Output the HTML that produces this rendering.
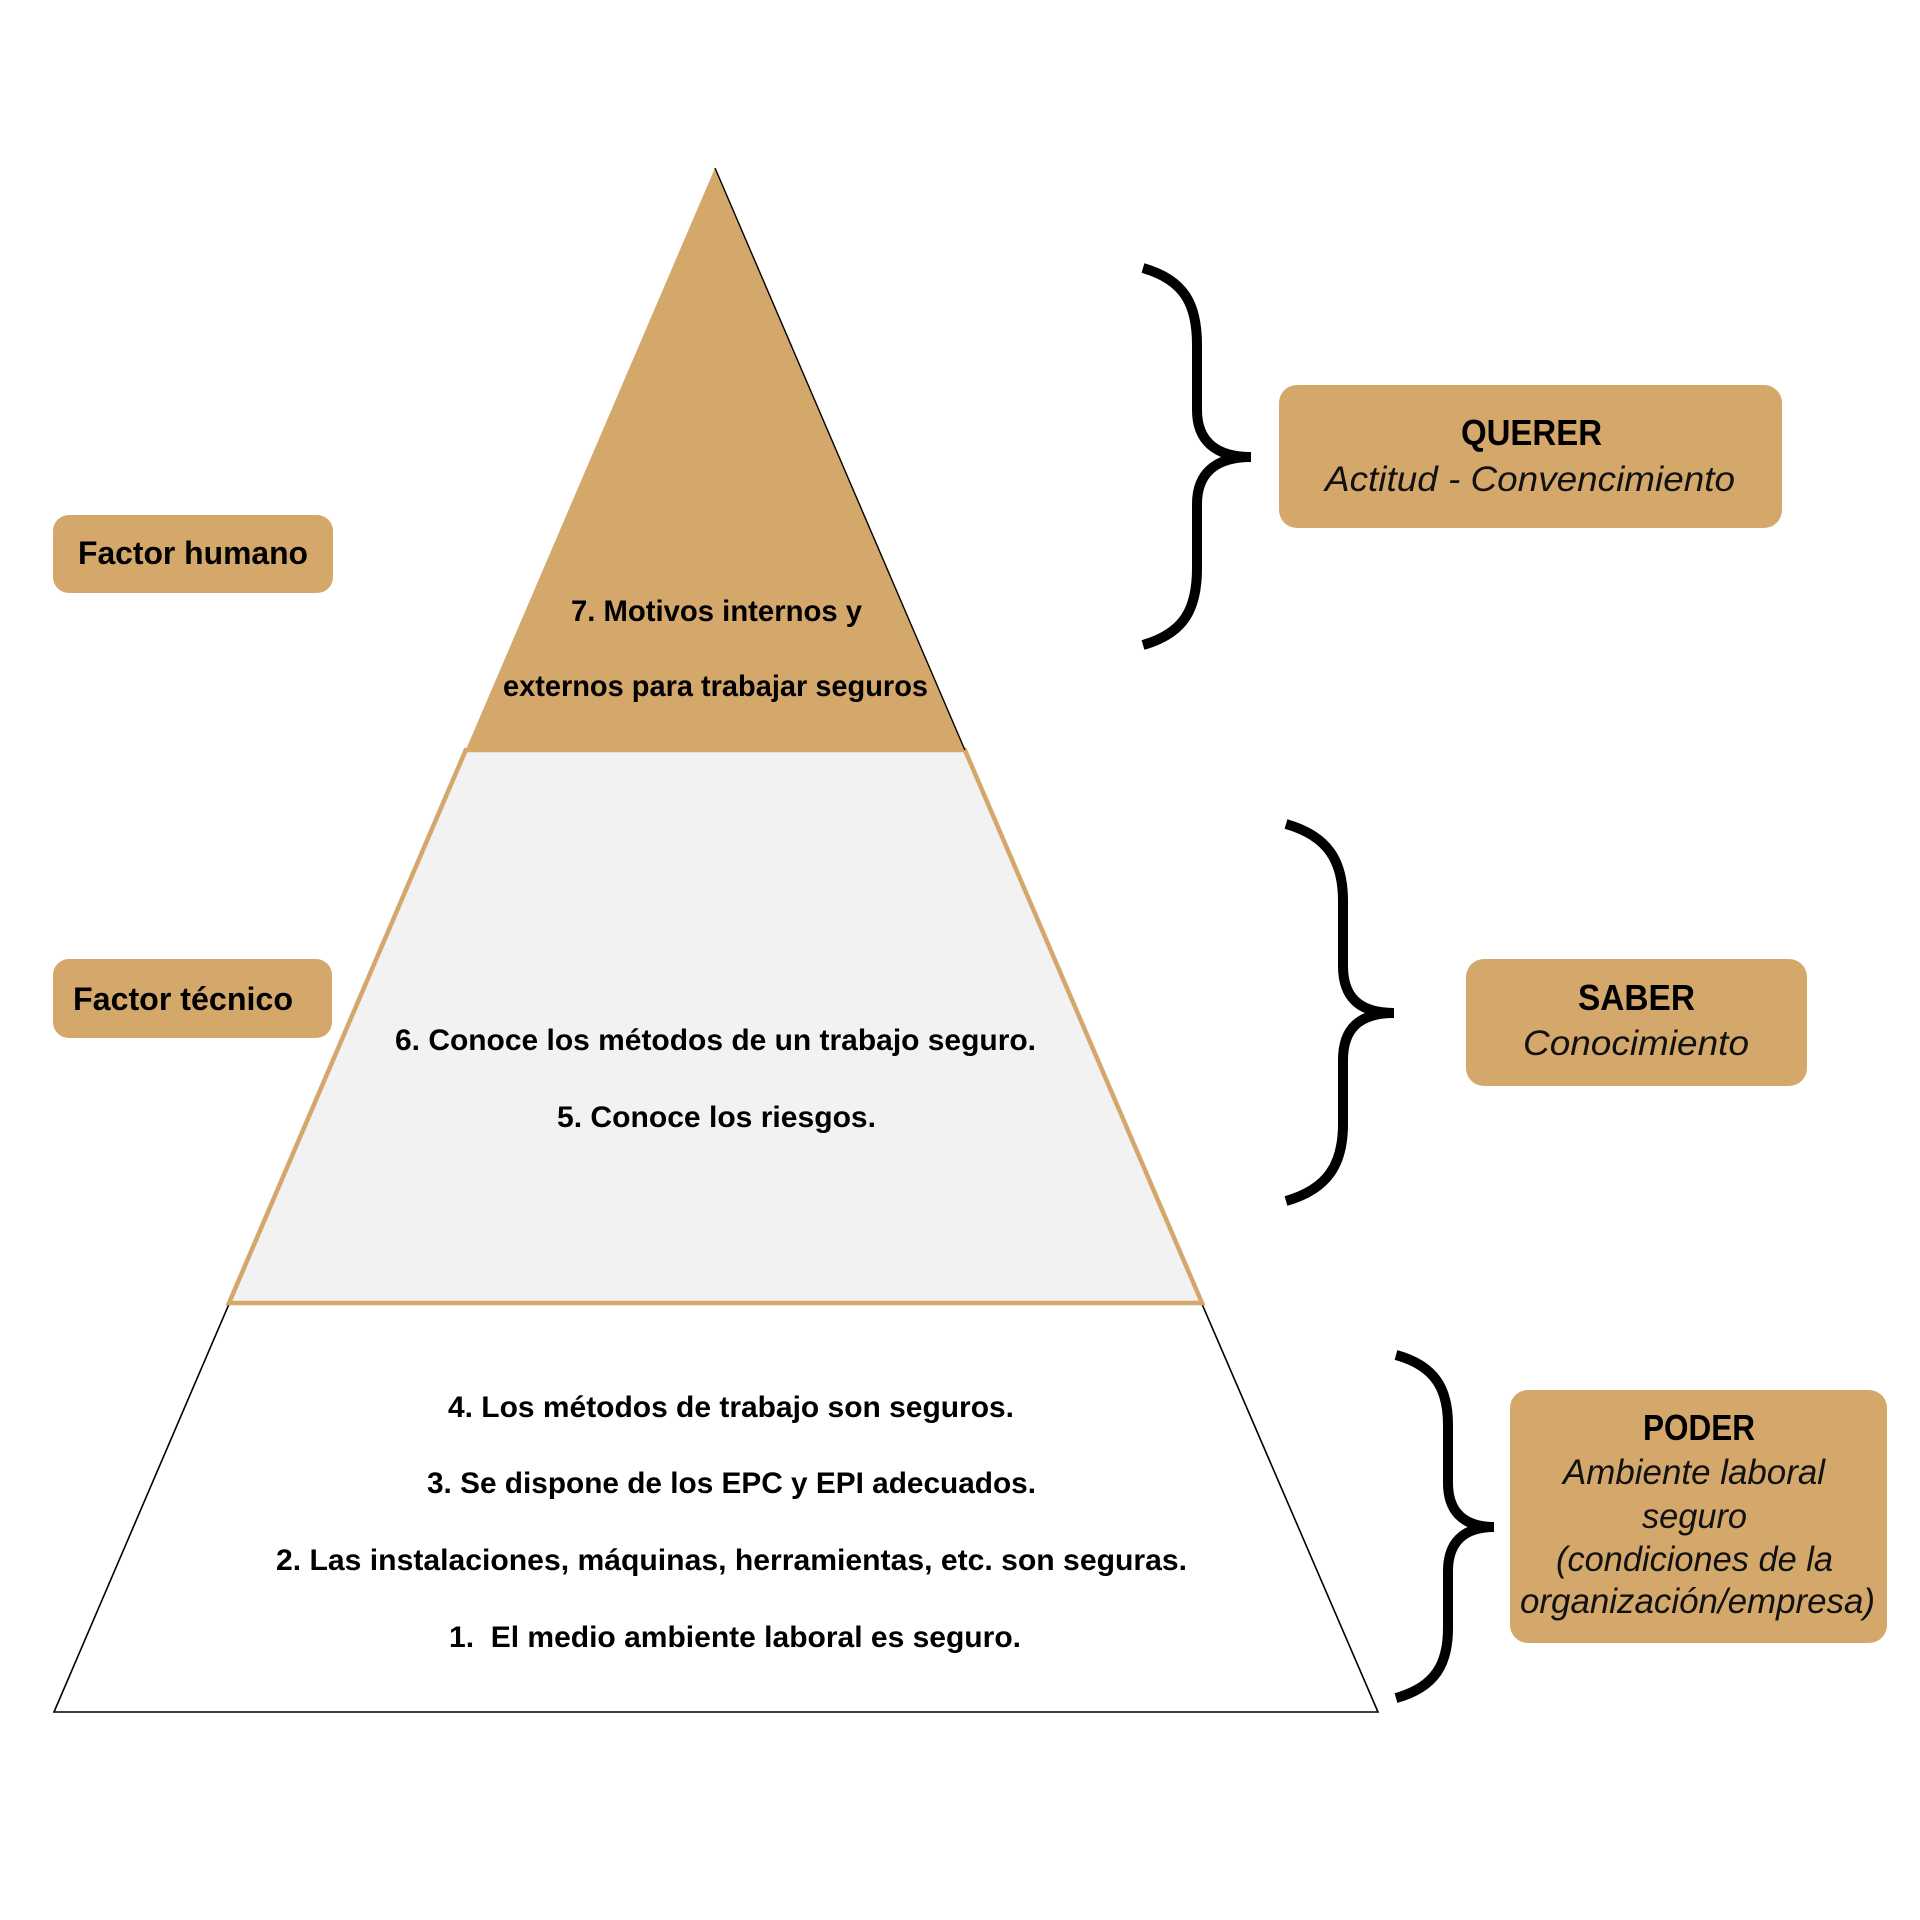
<!DOCTYPE html>
<html>
<head>
<meta charset="utf-8">
<style>
  html, body { margin: 0; padding: 0; background: #ffffff; }
  body { width: 1920px; height: 1920px; overflow: hidden; }
  svg { display: block; }
  .b { font-family: "Liberation Sans", Arial, sans-serif; font-weight: bold; fill: #000; }
  .i { font-family: "Liberation Sans", Arial, sans-serif; font-style: italic; font-weight: normal; fill: #111; }
</style>
</head>
<body>
<svg width="1920" height="1920" viewBox="0 0 1920 1920" xmlns="http://www.w3.org/2000/svg">
  <rect x="0" y="0" width="1920" height="1920" fill="#ffffff"/>

  <!-- Bottom band -->
  <polygon points="229,1304 1202,1304 1378,1712 54,1712" fill="#ffffff" stroke="#000" stroke-width="1.6" stroke-linejoin="miter"/>

  <!-- Middle band -->
  <polygon points="465.8,750 964.9,750 1202,1303 229,1303" fill="#F2F2F2" stroke="#D4A76A" stroke-width="4.5" stroke-linejoin="miter"/>

  <!-- Top band -->
  <polygon points="715,168 465.8,750 964.9,750" fill="#D4A76B"/>
  <line x1="715" y1="168" x2="964.9" y2="750" stroke="#000" stroke-width="1.4"/>

  <!-- Pyramid text -->
  <text class="b" font-size="30" x="571" y="621" textLength="291" lengthAdjust="spacingAndGlyphs">7. Motivos internos y</text>
  <text class="b" font-size="30" x="503" y="696" textLength="425" lengthAdjust="spacingAndGlyphs">externos para trabajar seguros</text>

  <text class="b" font-size="30" x="395" y="1050" textLength="641" lengthAdjust="spacingAndGlyphs">6. Conoce los métodos de un trabajo seguro.</text>
  <text class="b" font-size="30" x="557" y="1127" textLength="319" lengthAdjust="spacingAndGlyphs">5. Conoce los riesgos.</text>

  <text class="b" font-size="30" x="448" y="1417" textLength="566" lengthAdjust="spacingAndGlyphs">4. Los métodos de trabajo son seguros.</text>
  <text class="b" font-size="30" x="427" y="1493" textLength="609" lengthAdjust="spacingAndGlyphs">3. Se dispone de los EPC y EPI adecuados.</text>
  <text class="b" font-size="30" x="276" y="1570" textLength="911" lengthAdjust="spacingAndGlyphs">2. Las instalaciones, máquinas, herramientas, etc. son seguras.</text>
  <text class="b" font-size="30" x="449" y="1647" textLength="572" lengthAdjust="spacingAndGlyphs">1.&#160; El medio ambiente laboral es seguro.</text>

  <!-- Left labels -->
  <rect x="53" y="515" width="280" height="78" rx="16" ry="16" fill="#D4A76A"/>
  <text class="b" font-size="32" x="78" y="564" textLength="230" lengthAdjust="spacingAndGlyphs">Factor humano</text>

  <rect x="53" y="959" width="279" height="79" rx="16" ry="16" fill="#D4A76A"/>
  <text class="b" font-size="32" x="73" y="1010" textLength="220" lengthAdjust="spacingAndGlyphs">Factor técnico</text>

  <!-- Braces -->
  <g fill="none" stroke="#000" stroke-width="10" stroke-linejoin="bevel" stroke-linecap="butt">
    <path d="M1143,268 C1185,280 1197,305 1197,345 L1197,410 C1197,440 1215,457 1251,457 C1215,457 1197,474 1197,504 L1197,568 C1197,608 1185,633 1143,645"/>
    <path d="M1286,824 C1328,836 1343,861 1343,901 L1343,966 C1343,996 1358,1013 1394,1013 C1358,1013 1343,1030 1343,1060 L1343,1124 C1343,1164 1328,1189 1286,1201"/>
    <path d="M1396,1355 C1436,1366 1448,1390 1448,1425 L1448,1483 C1448,1510 1462,1527 1494,1527 C1462,1527 1448,1544 1448,1571 L1448,1628 C1448,1663 1436,1687 1396,1698"/>
  </g>

  <!-- QUERER box -->
  <rect x="1279" y="385" width="503" height="143" rx="18" ry="18" fill="#D4A76A"/>
  <text class="b" font-size="36" x="1461" y="445" textLength="141" lengthAdjust="spacingAndGlyphs">QUERER</text>
  <text class="i" font-size="35" x="1325" y="491" textLength="410" lengthAdjust="spacingAndGlyphs">Actitud - Convencimiento</text>

  <!-- SABER box -->
  <rect x="1466" y="959" width="341" height="127" rx="18" ry="18" fill="#D4A76A"/>
  <text class="b" font-size="36" x="1578" y="1010" textLength="117" lengthAdjust="spacingAndGlyphs">SABER</text>
  <text class="i" font-size="35" x="1523" y="1055" textLength="226" lengthAdjust="spacingAndGlyphs">Conocimiento</text>

  <!-- PODER box -->
  <rect x="1510" y="1390" width="377" height="253" rx="18" ry="18" fill="#D4A76A"/>
  <text class="b" font-size="36" x="1643" y="1440" textLength="112" lengthAdjust="spacingAndGlyphs">PODER</text>
  <text class="i" font-size="35" x="1563" y="1484" textLength="262" lengthAdjust="spacingAndGlyphs">Ambiente laboral</text>
  <text class="i" font-size="35" x="1642" y="1528" textLength="105" lengthAdjust="spacingAndGlyphs">seguro</text>
  <text class="i" font-size="35" x="1556" y="1571" textLength="277" lengthAdjust="spacingAndGlyphs">(condiciones de la</text>
  <text class="i" font-size="35" x="1520" y="1613" textLength="355" lengthAdjust="spacingAndGlyphs">organización/empresa)</text>
</svg>
</body>
</html>
